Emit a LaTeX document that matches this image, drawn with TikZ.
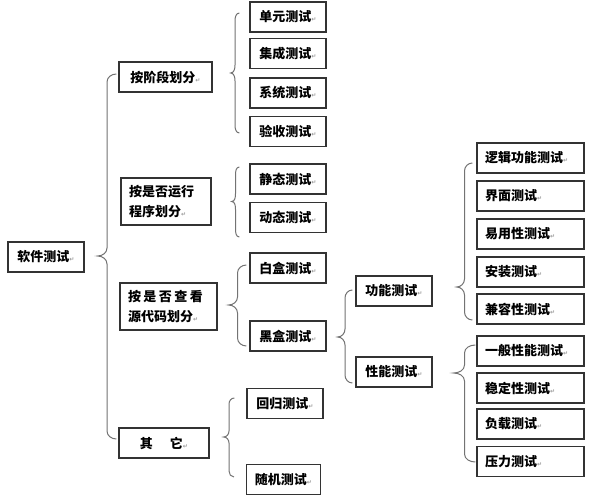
\documentclass[tikz,border=0pt]{standalone}
\usepackage{fontspec}
\setmainfont{Noto Sans CJK SC}
\newfontfamily\djv{DejaVu Sans}
\usetikzlibrary{calc}
\newcommand\rmk{{\djv\fontsize{6}{6}\selectfont\textcolor{black!40}{↵}}}
\newcommand\cbrace[4]{\draw[bracesty] let \p1=#1, \p2=#2, \p3=#3, \n1={(\x1+\x2)/2} in
  (\x2,\y2) to[out=180,in=90] (\n1,\y2-#4) -- (\n1,\y1+#4) to[out=-90,in=0] (\x1,\y1)
  to[out=0,in=90] (\n1,\y1-#4) -- (\n1,\y3+#4) to[out=-90,in=180] (\x3,\y3);}
\begin{document}
\begin{tikzpicture}[x=1pt,y=-1pt,
  font=\bfseries\fontsize{13}{20}\selectfont,
  box/.style={draw=black!80, line width=1.2pt, minimum height=30pt, inner sep=0pt},
  mbox/.style={box, minimum width=76pt},
  rbox/.style={box, text width=91pt, inner xsep=8pt, align=left},
  bracesty/.style={draw=black!55, line width=1pt}]
\fill[white] (0,0) rectangle (595,495);
\useasboundingbox (0,0) rectangle (595,495);
% level 0
\node[box, minimum width=76pt] (soft) at (46,257) {软件测试\rmk};
% level 1
\node[box, minimum width=93pt] (s1) at (165.5,77) {按阶段划分\rmk};
\node[box, minimum height=47pt, text width=74pt, inner xsep=8pt, align=left] (s2) at (166,201.5) {按是否运行\\程序划分\rmk};
\node[box, minimum height=47pt, text width=81pt, inner xsep=8pt, align=left] (s3) at (168.5,306.5) {按\hspace{2.5pt}是\hspace{2.5pt}否\hspace{2.5pt}查\hspace{2.5pt}看\\源代码划分\rmk};
\node[box, minimum width=90pt] (s4) at (164,443) {其\hspace{17pt}它\rmk};
% level 2
\node[mbox] (a1) at (288,17) {单元测试\rmk};
\node[mbox] (a2) at (288,53.5) {集成测试\rmk};
\node[mbox] (a3) at (288,93) {系统测试\rmk};
\node[mbox] (a4) at (288,131.5) {验收测试\rmk};
\node[mbox] (b1) at (288,179) {静态测试\rmk};
\node[mbox] (b2) at (288,217.5) {动态测试\rmk};
\node[mbox] (c1) at (288,268) {白盒测试\rmk};
\node[mbox] (c2) at (288,336) {黑盒测试\rmk};
\node[mbox] (d1) at (285,403.5) {回归测试\rmk};
\node[box, minimum width=74pt] (d2) at (283.5,479.5) {随机测试\rmk};
% level 3
\node[mbox] (f1) at (394,291) {功能测试\rmk};
\node[mbox] (f2) at (394,372) {性能测试\rmk};
% level 4
\node[rbox] (g1) at (530.5,158) {逻辑功能测试\rmk};
\node[rbox] (g2) at (530.5,196) {界面测试\rmk};
\node[rbox] (g3) at (530.5,234) {易用性测试\rmk};
\node[rbox] (g4) at (530.5,272) {安装测试\rmk};
\node[rbox] (g5) at (530.5,309) {兼容性测试\rmk};
\node[rbox] (h1) at (530.5,351) {一般性能测试\rmk};
\node[rbox] (h2) at (530.5,388) {稳定性测试\rmk};
\node[rbox] (h3) at (530.5,424) {负载测试\rmk};
\node[rbox] (h4) at (530.5,461.5) {压力测试\rmk};
% braces
\cbrace{($(soft.east)+(13,-1)$)}{($(s1.west)+(-2,-3)$)}{($(s4.west)+(-2,-4)$)}{8pt}
\cbrace{($(s1.east)+(18,-4)$)}{($(a1.west)+(-10,-4)$)}{($(a4.west)+(-10,1.5)$)}{8pt}
\cbrace{($(s2.east)+(20,0)$)}{($(b1.west)+(-10,-12)$)}{($(b2.west)+(-10,19.5)$)}{8pt}
\cbrace{($(s3.east)+(11,-1.5)$)}{($(c1.west)+(-3,-3)$)}{($(c2.west)+(-3,10)$)}{8pt}
\cbrace{($(s4.east)+(14,-6)$)}{($(d1.west)+(-12,-5.5)$)}{($(d2.west)+(-12,-2.5)$)}{6pt}
\cbrace{($(c2.east)+(11,1)$)}{($(f1.west)+(-3,-1)$)}{($(f2.west)+(-3,11)$)}{8pt}
\cbrace{($(f1.east)+(24,-4)$)}{($(g1.west)+(-4,5)$)}{($(g5.west)+(-4,11)$)}{8pt}
\cbrace{($(f2.east)+(21,1)$)}{($(h1.west)+(-1,-6)$)}{($(h4.west)+(-1,0.5)$)}{8pt}
\end{tikzpicture}
\end{document}
